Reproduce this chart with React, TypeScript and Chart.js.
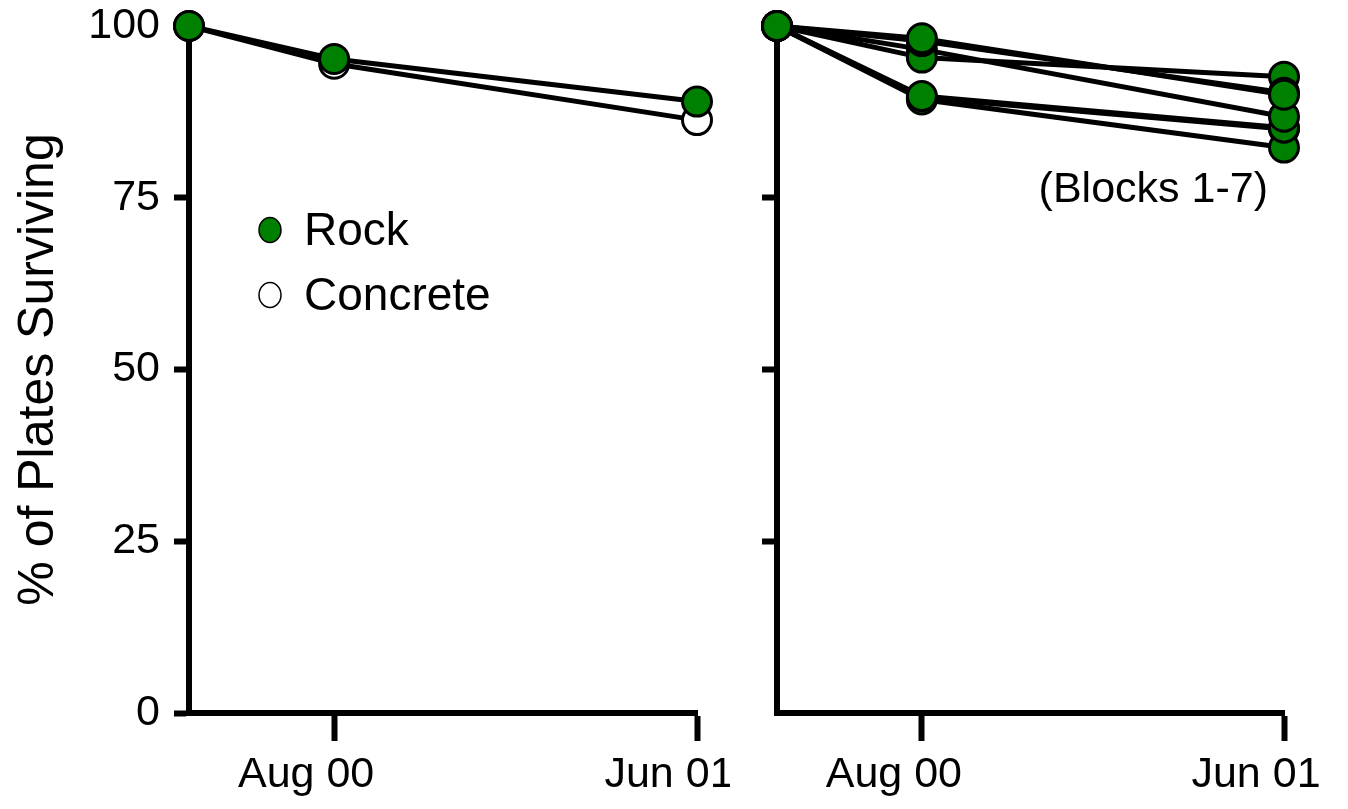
import React, { useEffect, useRef } from 'react';
import { Chart, registerables } from 'chart.js';

Chart.register(...registerables);

// ---- data ----
// sampling times expressed as month numbers (Apr 00 start, Aug 00, Jun 01)
const sampleMonths = [4, 8, 18];
const xTickMonths = [8, 18];
const xTickLabels = ['Aug 00', 'Jun 01'];
const yTickValues = [0, 25, 50, 75, 100];

const rockValues = [100, 95.2, 89.0];
const concreteValues = [100, 94.5, 86.3];

const block1 = [100, 98.2, 90.0];
const block2 = [100, 97.8, 90.3];
const block3 = [100, 95.4, 92.6];
const block4 = [100, 96.6, 86.8];
const block5 = [100, 89.8, 85.2];
const block6 = [100, 89.3, 82.3];
const block7 = [100, 89.6, 85.0];

const legendNames = ['Rock', 'Concrete'];
const yTitle = '% of Plates Surviving';
const blocksNote = '(Blocks 1-7)';

const GREEN = '#008000';
const FONT_NARROW = "'Liberation Sans Narrow', 'Arial Narrow', 'Liberation Sans', Arial, sans-serif";
const FONT = "'Liberation Sans', Arial, sans-serif";

function seriesDatasets(values: number[], fill: string, label: string, pointBorder: number) {
  const data = sampleMonths.map((m, i) => ({ x: m, y: values[i] }));
  return [
    {
      label,
      data,
      borderColor: '#000',
      borderWidth: 5,
      pointRadius: 0,
      pointHoverRadius: 0,
      order: 2,
      clip: false as const,
      fill: false,
    },
    {
      label: label + ' points',
      data,
      showLine: false,
      pointRadius: 14.5,
      pointHoverRadius: 14.5,
      pointBorderWidth: pointBorder,
      pointBackgroundColor: fill,
      pointBorderColor: '#000',
      order: 1,
      clip: false as const,
    },
  ];
}

function buildScales(showYLabels: boolean, hideZeroTick: boolean, yWidth: number) {
  return {
    x: {
      type: 'linear' as const,
      min: 4,
      max: 18,
      afterBuildTicks: (s: any) => {
        s.ticks = xTickMonths.map((v) => ({ value: v }));
      },
      afterFit: (s: any) => {
        s.height = 96;
        s.paddingLeft = 0;
        s.paddingRight = 0;
      },
      grid: {
        drawOnChartArea: false,
        drawTicks: true,
        tickLength: 28,
        tickWidth: 6,
        tickColor: '#000',
      },
      border: { display: true, color: '#000', width: 6 },
      ticks: {
        callback: (_v: any, i: number) => xTickLabels[i] ?? '',
        font: { family: FONT_NARROW, size: 43 },
        color: '#000',
        padding: 8,
        labelOffset: -28,
        maxRotation: 0,
        autoSkip: false,
      },
    },
    y: {
      type: 'linear' as const,
      min: 0,
      max: 100,
      afterBuildTicks: (s: any) => {
        s.ticks = yTickValues.map((v) => ({ value: v }));
      },
      afterFit: (s: any) => {
        s.width = yWidth;
        s.paddingTop = 0;
        s.paddingBottom = 0;
      },
      grid: {
        drawOnChartArea: false,
        drawTicks: true,
        tickLength: 15,
        tickWidth: 6,
        tickColor: hideZeroTick
          ? (c: any) => (c.tick && c.tick.value === 0 ? 'rgba(0,0,0,0)' : '#000')
          : '#000',
      },
      border: { display: true, color: '#000', width: 6 },
      ticks: {
        display: showYLabels,
        font: { family: FONT_NARROW, size: 43 },
        color: '#000',
        padding: 14,
      },
      title: {
        display: showYLabels,
        text: yTitle,
        font: { family: FONT, size: 50 },
        color: '#000',
        padding: { top: 9, bottom: 0 },
      },
    },
  };
}

const legendPlugin = {
  id: 'panelLegend',
  afterDatasetsDraw(chart: any) {
    const ctx = chart.ctx;
    const left = chart.chartArea.left;
    const fills = [GREEN, '#ffffff'];
    const rows = [230, 295];
    ctx.save();
    legendNames.forEach((name, i) => {
      const y = rows[i];
      ctx.beginPath();
      ctx.ellipse(left + 81, y, 11, 12.5, 0, 0, Math.PI * 2);
      ctx.fillStyle = fills[i];
      ctx.fill();
      ctx.lineWidth = 1.5;
      ctx.strokeStyle = '#000';
      ctx.stroke();
      ctx.fillStyle = '#000';
      ctx.font = `46px ${FONT}`;
      ctx.textAlign = 'left';
      ctx.textBaseline = 'middle';
      ctx.fillText(name, left + 115, y + 2);
    });
    ctx.restore();
  },
};

const notePlugin = {
  id: 'blocksNote',
  afterDatasetsDraw(chart: any) {
    const ctx = chart.ctx;
    const right = chart.chartArea.right;
    ctx.save();
    ctx.fillStyle = '#000';
    ctx.font = `43px ${FONT}`;
    ctx.textAlign = 'right';
    ctx.textBaseline = 'middle';
    ctx.fillText(blocksNote, right - 16, 190);
    ctx.restore();
  },
};

function PanelChart(props: { kind: 'left' | 'right'; width: number; height: number }) {
  const ref = useRef<HTMLCanvasElement | null>(null);
  useEffect(() => {
    if (!ref.current) return;
    const isLeft = props.kind === 'left';
    const datasets = isLeft
      ? [
          ...seriesDatasets(rockValues, GREEN, 'Rock', 3),
          ...seriesDatasets(concreteValues, '#ffffff', 'Concrete', 3),
        ]
      : [block1, block2, block3, block4, block5, block6, block7].flatMap((b, i) =>
          seriesDatasets(b, GREEN, 'Block ' + (i + 1), 3)
        );
    const chart = new Chart(ref.current, {
      type: 'line',
      data: { datasets: datasets as any },
      options: {
        responsive: false,
        animation: false,
        events: [],
        layout: {
          padding: isLeft
            ? { top: 26, right: 33, bottom: 0, left: 0 }
            : { top: 26, right: 64, bottom: 0, left: 0 },
        },
        plugins: {
          legend: { display: false },
          tooltip: { enabled: false },
        },
        scales: buildScales(isLeft, !isLeft, isLeft ? 189 : 47) as any,
      },
      plugins: [isLeft ? legendPlugin : notePlugin],
    });
    return () => chart.destroy();
  }, [props.kind]);
  return <canvas ref={ref} width={props.width} height={props.height} style={{ display: 'block' }} />;
}

export default function App() {
  return (
    <div
      style={{
        position: 'fixed',
        left: 0,
        top: 0,
        width: 1348,
        height: 809,
        background: '#ffffff',
        overflow: 'hidden',
      }}
    >
      <div style={{ position: 'absolute', left: 0, top: 0 }}>
        <PanelChart kind="left" width={730} height={809} />
      </div>
      <div style={{ position: 'absolute', left: 730, top: 0 }}>
        <PanelChart kind="right" width={618} height={809} />
      </div>
    </div>
  );
}
